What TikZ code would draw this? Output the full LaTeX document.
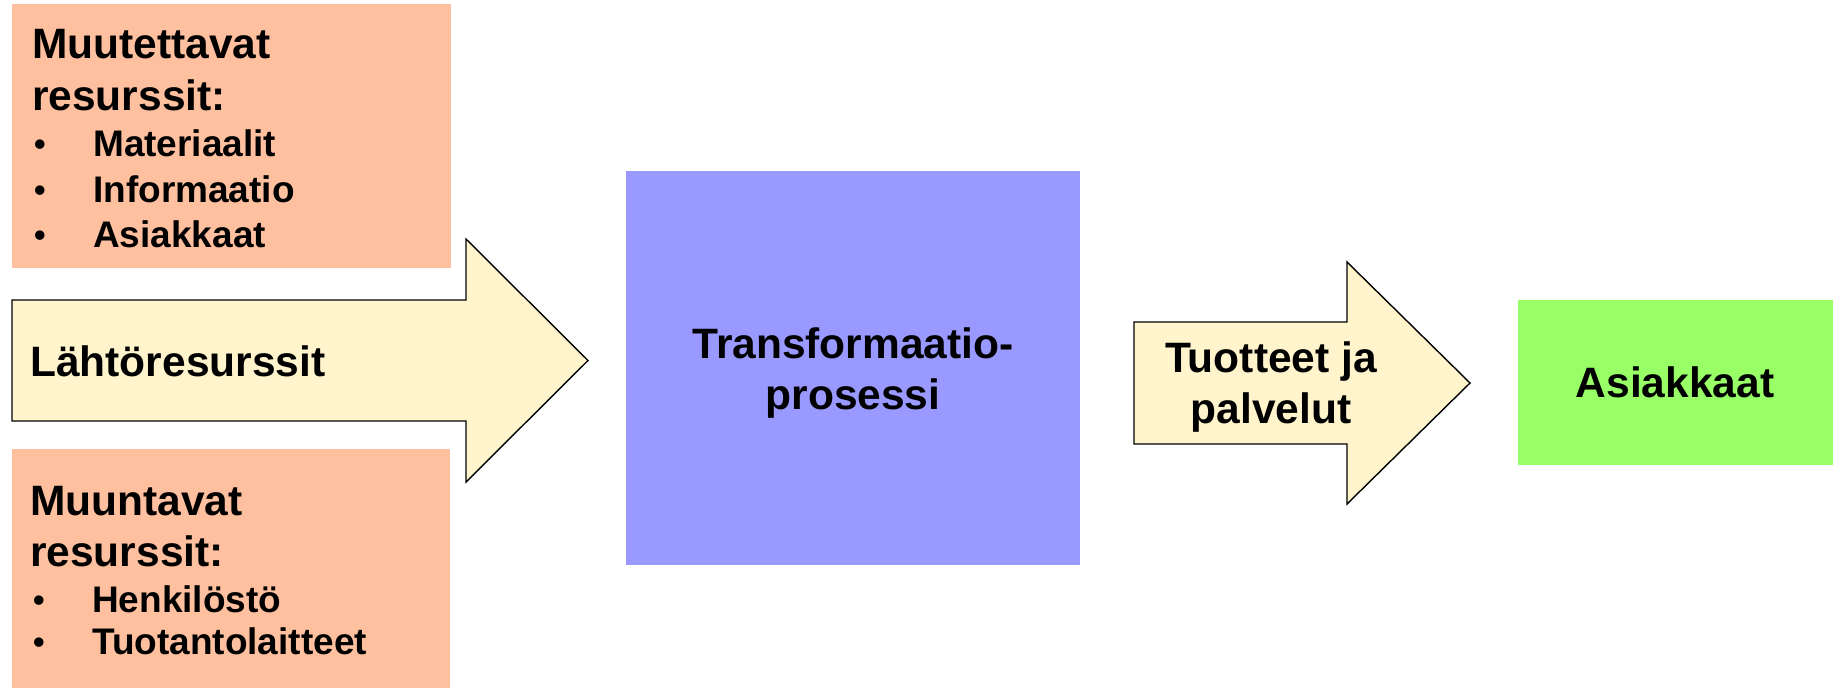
\documentclass[tikz,border=0pt]{standalone}
\usepackage{fontspec}
\setmainfont{Liberation Sans}
\definecolor{salmon}{HTML}{FFC0A0}
\definecolor{cream}{HTML}{FFF4CC}
\definecolor{lilac}{HTML}{9999FF}
\definecolor{lime}{HTML}{99FF66}
\begin{document}
\begin{tikzpicture}[x=1pt,y=-1pt,
  panel/.style={anchor=north west,inner sep=0pt,outer sep=0pt},
  flow/.style={draw=black,line width=1.4pt,fill=cream,line join=miter},
  label/.style={inner sep=0pt,font=\fontsize{42.5}{50}\selectfont\bfseries},
  lw/.style={label,anchor=base west},
  lc/.style={label,anchor=base},
  item/.style={inner sep=0pt,anchor=base west,font=\fontsize{37}{44}\selectfont\bfseries},
  dot/.style={inner sep=0pt,anchor=base west,font=\fontsize{33}{40}\selectfont\bfseries}]
\useasboundingbox (0,0) rectangle (1838,688);

% resource boxes
\node[panel,fill=salmon,minimum width=439pt,minimum height=264pt] (top) at (12,4) {};
\node[panel,fill=salmon,minimum width=438pt,minimum height=239pt] (bot) at (12,449) {};

% input arrow
\draw[flow] (12,300) -- (466,300) -- (466,239) -- (588,360.5) -- (466,482) -- (466,421) -- (12,421) -- cycle;

% transformation and customers
\node[panel,fill=lilac,minimum width=454pt,minimum height=394pt] (proc) at (626,171) {};
\node[panel,fill=lime,minimum width=315pt,minimum height=165pt] (cust) at (1518,300) {};

% output arrow
\draw[flow] (1134,322) -- (1347,322) -- (1347,262) -- (1470,383) -- (1347,504) -- (1347,444) -- (1134,444) -- cycle;

% texts of the upper box
\node[lw] (t1) at (32,58) {Muutettavat};
\node[lw] (t2) at (32,110) {resurssit:};
\node[dot] (b1) at (34,155) {•};
\node[item] (t3) at (93,156) {Materiaalit};
\node[dot] (b2) at (34,201) {•};
\node[item] (t4) at (93,202) {Informaatio};
\node[dot] (b3) at (34,246) {•};
\node[item] (t5) at (93,247) {Asiakkaat};

% input label
\node[lw] (inp) at (30,376) {Lähtöresurssit};

% texts of the lower box
\node[lw] (u1) at (30,515) {Muuntavat};
\node[lw] (u2) at (30,566) {resurssit:};
\node[dot] (c1) at (33,611) {•};
\node[item] (u3) at (92,612) {Henkilöstö};
\node[dot] (c2) at (33,653) {•};
\node[item] (u4) at (92,654) {Tuotantolaitteet};

% process label
\node[lc] (p1) at (853,358) {Transformaatio-};
\node[lc] (p2) at (853,409) {prosessi};

% output label
\node[lc] (o1) at (1271,372) {Tuotteet ja};
\node[lc] (o2) at (1271,423) {palvelut};

% customers label
\node[lc] (cl) at (1675,397) {Asiakkaat};
\end{tikzpicture}
\end{document}
